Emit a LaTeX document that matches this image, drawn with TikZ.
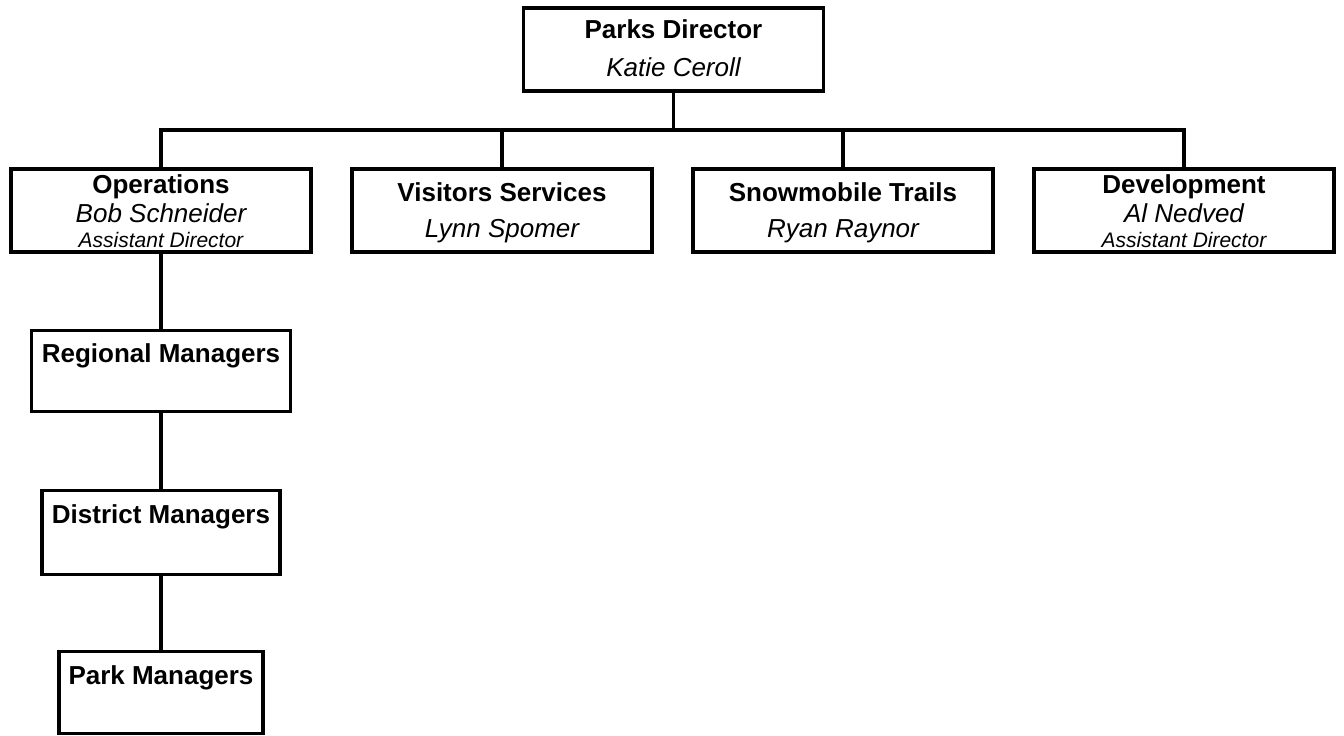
\documentclass[tikz,border=0pt]{standalone}
\usepackage{fontspec}
\setmainfont{Liberation Sans}
\begin{document}
\begin{tikzpicture}[
    x=1pt,y=-1pt,
    box/.style={draw,line width=3.4pt,minimum width=300pt,minimum height=83pt,inner sep=0pt},
    head/.style={anchor=base,inner sep=0pt,font=\bfseries\fontsize{26}{30}\selectfont},
    who/.style={anchor=base,inner sep=0pt,font=\itshape\fontsize{26}{30}\selectfont},
    role/.style={anchor=base,inner sep=0pt,font=\itshape\fontsize{21}{25}\selectfont},
    link/.style={line width=3.4pt}
    ]
    \useasboundingbox (0,0) rectangle (1344,736);
    % boxes
    \node[box] (dir) at (673.5,49.5) {};
    \node[box] (ops) at (161,210.5) {};
    \node[box] (vis) at (502,210.5) {};
    \node[box] (snow) at (843,210.5) {};
    \node[box] (dev) at (1184,210.5) {};
    \node[box,minimum width=259pt,minimum height=81pt] (reg) at (161,371) {};
    \node[box,minimum width=238pt,minimum height=84pt] (dist) at (161,532.5) {};
    \node[box,minimum width=204pt,minimum height=82pt] (park) at (161,692.5) {};
    % texts
    \node[head] (dirhead) at (673.5,38) {Parks Director};
    \node[who] (dirwho) at (673.5,76) {Katie Ceroll};
    \node[head] (opshead) at (161,193) {Operations};
    \node[who] (opswho) at (161,222) {Bob Schneider};
    \node[role] (opsrole) at (161,247) {Assistant Director};
    \node[head] (vishead) at (502,201) {Visitors Services};
    \node[who] (viswho) at (502,237) {Lynn Spomer};
    \node[head] (snowhead) at (843,201) {Snowmobile Trails};
    \node[who] (snowwho) at (843,237) {Ryan Raynor};
    \node[head] (devhead) at (1184,193) {Development};
    \node[who] (devwho) at (1184,222) {Al Nedved};
    \node[role] (devrole) at (1184,247) {Assistant Director};
    \node[head] (reghead) at (161,362) {Regional Managers};
    \node[head] (disthead) at (161,523) {District Managers};
    \node[head] (parkhead) at (161,684) {Park Managers};
    % lines
    \coordinate (bar) at (673.5,130);
    \draw[link] (dir.south) -- (bar);
    \draw[link] (ops.north) |- (bar) -| (dev.north);
    \draw[link] (vis.north) -- (vis.north |- bar);
    \draw[link] (snow.north) -- (snow.north |- bar);
    \draw[link] (ops.south) -- (reg.north);
    \draw[link] (reg.south) -- (dist.north);
    \draw[link] (dist.south) -- (park.north);
  \end{tikzpicture}
\end{document}
